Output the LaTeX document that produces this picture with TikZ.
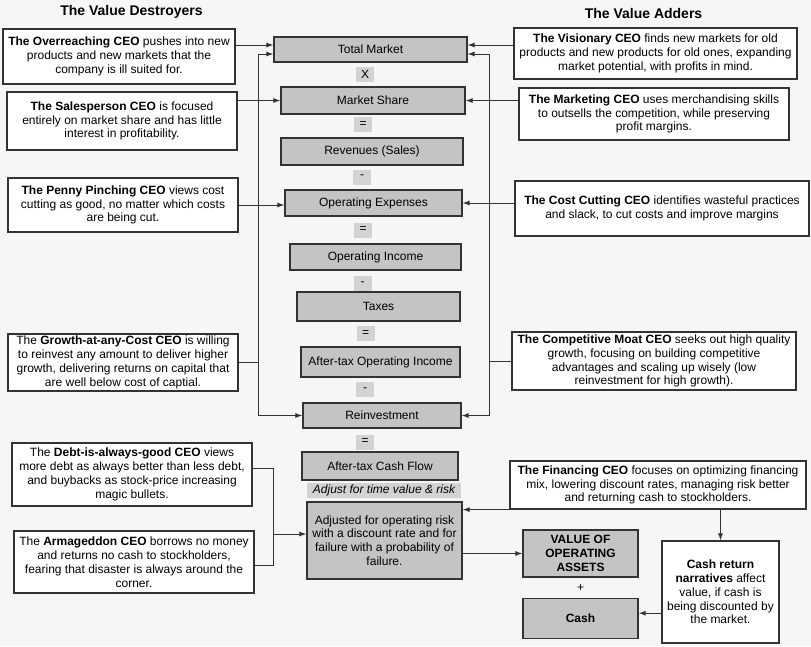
\documentclass[tikz,border=0pt]{standalone}
\usepackage{fontspec}
\setmainfont{Liberation Sans}
\usepackage{xcolor}
\usepackage{tikz}
\usetikzlibrary{arrows.meta,positioning,calc}

\definecolor{bgcol}{HTML}{F6F6F6}
\definecolor{edgecol}{HTML}{333333}
\definecolor{valgray}{HTML}{C4C4C4}
\definecolor{opgray}{HTML}{D3D3D3}

\begin{document}
\fontsize{12}{13.8}\selectfont
\begin{tikzpicture}[
    x=1pt, y=-1pt,
    ceo/.style={rectangle, draw=edgecol, line width=1.2pt, fill=white, align=center, inner sep=2pt},
    val/.style={rectangle, draw=edgecol, line width=1.2pt, fill=valgray, align=center, inner sep=2pt},
    op/.style={rectangle, fill=opgray, inner sep=0pt, minimum width=18, minimum height=15},
    arrow/.style={-{Latex[length=7pt,width=5pt]}, edgecol, line width=1pt},
    link/.style={edgecol, line width=1pt}
]
\fill[bgcol] (0,0) rectangle (811,646);
\useasboundingbox (0,0) rectangle (811,646);

% headings
\node[font=\bfseries\fontsize{14}{16}\selectfont] (tdes) at (131.5,12) {The Value Destroyers};
\node[font=\bfseries\fontsize{14}{16}\selectfont] (tadd) at (643.5,13) {The Value Adders};

% value destroyers
\node[ceo, minimum width=232, minimum height=55] (over) at (119,56.5) {\textbf{The Overreaching CEO} pushes into new\\products and new markets that the\\company is ill suited for.};
\node[ceo, minimum width=230, minimum height=58] (sales) at (122,121) {\textbf{The Salesperson CEO} is focused\\entirely on market share and has little\\interest in profitability.};
\node[ceo, minimum width=230, minimum height=54] (penny) at (123,205) {\textbf{The Penny Pinching CEO} views cost\\cutting as good, no matter which costs\\are being cut.};
\node[ceo, minimum width=230, minimum height=57] (growth) at (123,362.5) {The \textbf{Growth-at-any-Cost CEO} is willing\\to reinvest any amount to deliver higher\\growth, delivering returns on capital that\\are well below cost of captial.};
\node[ceo, minimum width=240, minimum height=63] (debt) at (132,474.5) {The \textbf{Debt-is-always-good CEO} views\\more debt as always better than less debt,\\and buybacks as stock-price increasing\\magic bullets.};
\node[ceo, minimum width=240, minimum height=62] (armag) at (134,562) {The \textbf{Armageddon CEO} borrows no money\\and returns no cash to stockholders,\\fearing that disaster is always around the\\corner.};

% value chain
\node[val, minimum width=193, minimum height=25] (tmkt) at (370.5,49.5) {Total Market};
\node[op] (opx) at (365,74) {X};
\node[val, minimum width=184, minimum height=27] (mshare) at (373,100.5) {Market Share};
\node[op] (opeqa) at (363,124.5) {=};
\node[val, minimum width=182, minimum height=27] (rev) at (372,151.5) {Revenues (Sales)};
\node[op] (opma) at (362,177) {-};
\node[val, minimum width=177, minimum height=26] (opex) at (373.5,203) {Operating Expenses};
\node[op] (opeqb) at (363,230) {=};
\node[val, minimum width=171, minimum height=26] (opinc) at (375.5,257) {Operating Income};
\node[op] (opmb) at (362.5,283.5) {-};
\node[val, minimum width=163, minimum height=29] (tax) at (378.5,306.5) {Taxes};
\node[op] (opeqc) at (365.5,333.5) {=};
\node[val, minimum width=159, minimum height=30] (atoi) at (380.5,362) {After-tax Operating Income};
\node[op] (opmc) at (365,389.5) {-};
\node[val, minimum width=158, minimum height=25] (reinv) at (382,415.5) {Reinvestment};
\node[op] (opeqd) at (365,442) {=};
\node[val, minimum width=156, minimum height=28] (atcf) at (380,466) {After-tax Cash Flow};
\node[op, minimum width=154, font=\itshape] (adjlbl) at (384,490.5) {Adjust for time value \& risk};
\node[val, minimum width=155, minimum height=77] (adj) at (384.5,540.5) {Adjusted for operating risk\\with a discount rate and for\\failure with a probability of\\failure.};

% value adders
\node[ceo, minimum width=283, minimum height=51] (vision) at (655.5,53.5) {\textbf{The Visionary CEO} finds new markets for old\\products and new products for old ones, expanding\\market potential, with profits in mind.};
\node[ceo, minimum width=270, minimum height=52] (market) at (654,114) {\textbf{The Marketing CEO} uses merchandising skills\\to outsells the competition, while preserving\\profit margins.};
\node[ceo, minimum width=294, minimum height=55] (cutter) at (662,208.5) {\textbf{The Cost Cutting CEO} identifies wasteful practices\\and slack, to cut costs and improve margins};
\node[ceo, minimum width=284, minimum height=58] (moat) at (654,361) {\textbf{The Competitive Moat CEO} seeks out high quality\\growth, focusing on building competitive\\advantages and scaling up wisely (low\\reinvestment for high growth).};
\node[ceo, minimum width=296, minimum height=48] (finance) at (658,485) {\textbf{The Financing CEO} focuses on optimizing financing\\mix, lowering discount rates, managing risk better\\and returning cash to stockholders.};

% value
\node[val, minimum width=115, minimum height=47, font=\bfseries] (voa) at (580.5,553.5) {VALUE OF\\OPERATING\\ASSETS};
\node[inner sep=0pt] (plus) at (580.5,588) {+};
\node[val, minimum width=115, minimum height=40, font=\bfseries, below=20pt of voa] (cash) {Cash};
\node[ceo, minimum width=117, minimum height=102] (cashret) at (720.5,592) {\textbf{Cash return}\\\textbf{narratives} affect\\value, if cash is\\being discounted by\\the market.};

% connectors
\coordinate (tmA) at ([yshift=4.5]tmkt.west);
\coordinate (tmB) at ([yshift=-4.5]tmkt.west);
\coordinate (tmC) at ([yshift=4.5]tmkt.east);
\coordinate (tmD) at ([yshift=-4.5]tmkt.east);
\coordinate (lbus) at (258,0);
\coordinate (rbus) at (489,0);
\coordinate (bbus) at (273,0);

\draw[arrow] (over.east |- tmA) -- (tmA);
\draw[arrow] (sales.east |- mshare.west) -- (mshare.west);
\draw[arrow] (penny.east) -- (penny.east -| opex.west);
\draw[link] (growth.east) -- (growth.east -| lbus);
\draw[arrow] (lbus |- growth.east) -- (lbus |- tmB) -- (tmB);
\draw[arrow] (lbus |- growth.east) -- (lbus |- reinv.west) -- (reinv.west);

\draw[arrow] (vision.west |- tmC) -- (tmC);
\draw[arrow] (market.west |- mshare.east) -- (mshare.east);
\draw[arrow] (cutter.west |- opex.east) -- (opex.east);
\draw[link] (moat.west) -- (moat.west -| rbus);
\draw[arrow] (rbus |- moat.west) -- (rbus |- tmD) -- (tmD);
\draw[arrow] (rbus |- moat.west) -- (rbus |- reinv.east) -- (reinv.east);

\coordinate (dA) at ([yshift=6.5]debt.east);
\coordinate (dB) at ([yshift=-3]armag.east);
\coordinate (adjin) at ([yshift=6.5]adj.west);
\draw[link] (dA) -- (dA -| bbus) -- (dB -| bbus) -- (dB);
\draw[arrow] (adjin -| bbus) -- (adjin);

\draw[arrow] (finance.south west) -- (finance.south west -| adj.east);
\draw[arrow] (adj.east |- voa.west) -- (voa.west);
\draw[arrow] (finance.south -| cashret.north) -- (cashret.north);
\coordinate (cashin) at ([yshift=5]cash.east);
\draw[arrow] (cashret.west |- cashin) -- (cashin);

\end{tikzpicture}
\end{document}
